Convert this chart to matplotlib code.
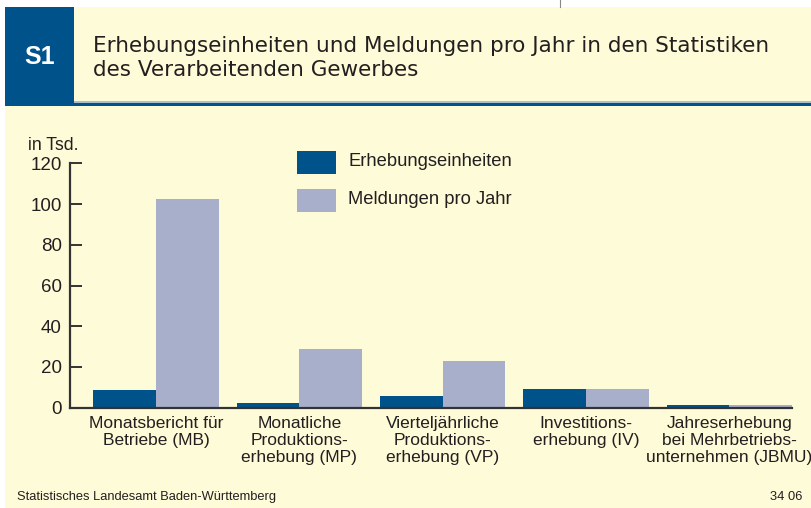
import matplotlib
matplotlib.use("Agg")
import matplotlib.pyplot as plt
from matplotlib.patches import Rectangle
import numpy as np

categories = ["Monatsbericht für\nBetriebe (MB)",
              "Monatliche\nProduktions-\nerhebung (MP)",
              "Vierteljährliche\nProduktions-\nerhebung (VP)",
              "Investitions-\nerhebung (IV)",
              "Jahreserhebung\nbei Mehrbetriebs-\nunternehmen (JBMU)"]
erhebungseinheiten = [8.7, 2.3, 5.7, 9.2, 1.3]
meldungen = [102.5, 28.8, 22.9, 9.2, 1.2]
yticks = [0, 20, 40, 60, 80, 100, 120]
series_names = ["Erhebungseinheiten", "Meldungen pro Jahr"]

DARK = "#00538A"
LIGHT = "#A8AFCB"
CREAM = "#FEFBD8"
TEXT = "#231F20"

plt.rcParams['font.family'] = ['Liberation Sans', 'DejaVu Sans']

W, H = 811, 508
fig = plt.figure(figsize=(W / 100, H / 100), dpi=100)
fig.patch.set_facecolor("white")

# background / frame in pixel coordinates
bg = fig.add_axes([0, 0, 1, 1])
bg.set_xlim(0, W)
bg.set_ylim(H, 0)
bg.axis("off")
bg.add_patch(Rectangle((5, 7), W - 5, H - 7, facecolor=CREAM, edgecolor="none"))
bg.add_patch(Rectangle((5, 7), 69, 99, facecolor=DARK, edgecolor="none"))
bg.add_patch(Rectangle((74, 101), W - 74, 2, facecolor="#A9C0CC", edgecolor="none"))
bg.add_patch(Rectangle((74, 103), W - 74, 2.5, facecolor=DARK, edgecolor="none"))
bg.plot([560, 560], [0, 7], color="#888888", lw=0.8)
bg.text(40, 57, "S1", color="white", fontsize=18, fontweight="bold",
        ha="center", va="center")
bg.text(93, 46, "Erhebungseinheiten und Meldungen pro Jahr in den Statistiken",
        color=TEXT, fontsize=15.5, ha="left", va="center", family="DejaVu Sans")
bg.text(93, 70, "des Verarbeitenden Gewerbes",
        color=TEXT, fontsize=15.5, ha="left", va="center", family="DejaVu Sans")
bg.text(17, 497, "Statistisches Landesamt Baden-Württemberg", color=TEXT,
        fontsize=9.3, ha="left", va="center")
bg.text(802, 497, "34 06", color=TEXT, fontsize=9.3, ha="right", va="center")
bg.text(28, 146, "in Tsd.", color=TEXT, fontsize=12.7, ha="left", va="center")

# legend
for i, (name, col) in enumerate(zip(series_names, [DARK, LIGHT])):
    ytop = 151 + i * 38
    bg.add_patch(Rectangle((297, ytop), 39, 23, facecolor=col, edgecolor="none"))
    bg.text(348, ytop + 11, name, color=TEXT, fontsize=13.2, ha="left", va="center")

# main axes
x0, x1 = 70, 792
y0, y1 = 163.3, 407.7
ax = fig.add_axes([x0 / W, 1 - y1 / H, (x1 - x0) / W, (y1 - y0) / H])
ax.set_facecolor("none")
x = np.arange(len(categories))
bw = 0.4375
ax.bar(x - bw / 2, erhebungseinheiten, width=bw, color=DARK, linewidth=0,
       label=series_names[0])
ax.bar(x + bw / 2, meldungen, width=bw, color=LIGHT, linewidth=0,
       label=series_names[1])
ax.set_xlim(-0.6, 4 + bw)
ax.set_ylim(0, 120)
ax.set_yticks(yticks)
ax.set_yticklabels([str(v) for v in yticks], fontsize=13.5, color=TEXT)
ax.set_xticks(x)
ax.set_xticklabels(categories, fontsize=12.5, color=TEXT, linespacing=1.15)
ax.tick_params(axis="x", length=0, pad=6)
ax.tick_params(axis="y", direction="in", length=8.6, width=1.4, color="#333333", pad=5.8)
for s in ["top", "right"]:
    ax.spines[s].set_visible(False)
for s in ["left", "bottom"]:
    ax.spines[s].set_color("#333333")
    ax.spines[s].set_linewidth(1.6)

fig.savefig("out.png", dpi=100, facecolor=fig.get_facecolor())
